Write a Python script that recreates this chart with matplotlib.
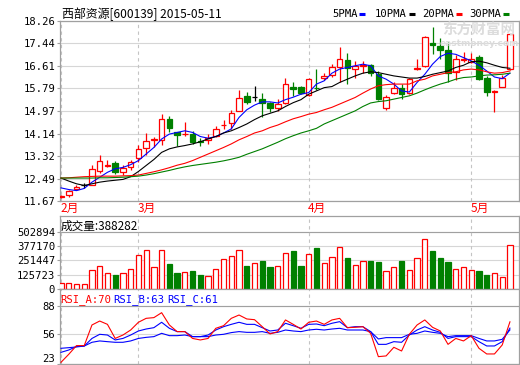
import matplotlib
matplotlib.use('Agg')
import matplotlib.pyplot as plt
from matplotlib.lines import Line2D
import numpy as np

# ---- data (600139, 2015-02-04 .. 2015-05-11) ----
opens = [11.82, 11.90, 12.12, 12.24, 12.26, 12.77, 12.96, 13.07, 12.74, 12.90,
         13.23, 13.60, 13.92, 13.92, 14.67, 14.18, 14.11, 14.12, 13.86, 13.89,
         14.06, 14.44, 14.53, 14.95, 15.51, 15.46, 15.40, 15.26, 15.08, 15.26,
         15.83, 15.85, 15.55, 15.82, 16.18, 16.28, 16.59, 16.83, 16.52, 16.63,
         16.64, 16.31, 15.07, 15.62, 15.80, 15.64, 16.50, 16.62, 17.47, 17.35,
         17.20, 16.40, 16.84, 16.76, 16.95, 16.18, 15.66, 15.86, 16.50]
highs = [11.90, 12.09, 12.24, 12.32, 12.97, 13.36, 13.17, 13.15, 12.97, 13.18,
         13.72, 14.15, 14.00, 14.85, 14.77, 14.20, 14.57, 14.24, 13.97, 14.12,
         14.43, 14.64, 15.00, 15.74, 15.67, 15.89, 15.62, 15.31, 15.40, 16.18,
         16.01, 15.89, 16.18, 16.52, 16.37, 16.68, 17.31, 17.08, 16.81, 16.80,
         16.70, 16.43, 15.54, 16.04, 15.96, 16.18, 16.88, 17.70, 18.04, 17.65,
         17.48, 17.01, 17.12, 17.10, 17.00, 16.25, 15.74, 16.28, 17.77]
lows = [11.78, 11.81, 12.07, 12.14, 12.24, 12.70, 12.90, 12.66, 12.63, 12.79,
        13.09, 13.36, 13.66, 13.72, 14.20, 13.70, 14.05, 13.76, 13.70, 13.76,
        14.03, 14.29, 14.29, 14.95, 15.23, 15.33, 14.73, 14.93, 14.97, 15.22,
        15.52, 15.57, 15.50, 15.72, 16.10, 16.21, 16.01, 15.97, 16.17, 16.37,
        16.26, 15.38, 15.01, 15.60, 15.42, 15.57, 16.47, 16.57, 17.04, 16.86,
        16.01, 16.11, 16.76, 16.72, 16.11, 15.53, 14.94, 15.86, 16.47]
closes = [11.86, 12.03, 12.20, 12.24, 12.85, 13.14, 12.98, 12.72, 12.87, 13.11,
          13.58, 13.87, 13.95, 14.67, 14.33, 14.07, 14.13, 13.84, 13.84, 13.98,
          14.31, 14.47, 14.91, 15.44, 15.30, 15.46, 15.26, 15.07, 15.22, 15.95,
          15.78, 15.64, 16.15, 15.79, 16.25, 16.56, 16.86, 16.53, 16.62, 16.65,
          16.35, 15.42, 15.48, 15.80, 15.59, 16.13, 16.53, 17.68, 17.37, 17.19,
          16.37, 16.86, 16.87, 16.88, 16.15, 15.67, 15.68, 16.19, 17.77]
volumes = [50000, 50000, 44000, 44000, 166000, 201000, 137000, 122000, 137000, 172000,
           297000, 340000, 189000, 340000, 218000, 142000, 148000, 157000, 122000, 111000,
           172000, 259000, 288000, 340000, 201000, 224000, 244000, 192000, 198000, 314000,
           332000, 201000, 303000, 358000, 224000, 277000, 373000, 271000, 207000, 242000,
           244000, 236000, 157000, 189000, 244000, 163000, 268000, 443000, 332000, 271000,
           236000, 172000, 189000, 163000, 157000, 122000, 137000, 105000, 388282]

ma5 = [12.15, 12.09, 12.05, 12.13, 12.36, 12.54, 12.72, 12.85, 12.90, 13.00,
       13.15, 13.39, 13.63, 13.94, 14.12, 14.18, 14.24, 14.18, 14.03, 13.97,
       14.03, 14.16, 14.31, 14.73, 15.01, 15.18, 15.30, 15.30, 15.26, 15.38,
       15.47, 15.58, 15.64, 15.95, 16.07, 16.35, 16.50, 16.56, 16.62, 16.68,
       16.62, 16.25, 16.13, 15.95, 15.70, 15.66, 16.01, 16.31, 16.68, 16.96,
       17.08, 17.04, 16.92, 16.80, 16.64, 16.43, 16.21, 16.15, 16.35]
ma10 = [12.51, 12.40, 12.30, 12.24, 12.30, 12.36, 12.40, 12.43, 12.46, 12.56,
        12.75, 12.97, 13.19, 13.45, 13.58, 13.65, 13.70, 13.76, 13.84, 13.94,
        14.03, 14.16, 14.24, 14.36, 14.49, 14.65, 14.79, 14.88, 14.97, 15.13,
        15.27, 15.38, 15.58, 15.70, 15.82, 15.86, 16.01, 16.13, 16.25, 16.35,
        16.40, 16.37, 16.31, 16.25, 16.21, 16.17, 16.17, 16.23, 16.31, 16.37,
        16.43, 16.56, 16.64, 16.77, 16.79, 16.73, 16.64, 16.56, 16.53]
ma20 = [12.51, 12.52, 12.54, 12.56, 12.57, 12.58, 12.58, 12.58, 12.59, 12.60,
        12.62, 12.68, 12.74, 12.81, 12.89, 12.98, 13.05, 13.15, 13.27, 13.39,
        13.51, 13.63, 13.76, 13.91, 14.03, 14.16, 14.24, 14.36, 14.45, 14.57,
        14.68, 14.76, 14.85, 14.91, 15.01, 15.10, 15.22, 15.34, 15.46, 15.62,
        15.77, 15.89, 15.93, 15.95, 15.95, 15.95, 16.07, 16.13, 16.25, 16.31,
        16.37, 16.40, 16.47, 16.50, 16.47, 16.40, 16.35, 16.37, 16.43]
ma30 = [12.51, 12.51, 12.51, 12.51, 12.51, 12.52, 12.52, 12.53, 12.54, 12.56,
        12.58, 12.62, 12.67, 12.73, 12.79, 12.86, 12.92, 12.97, 13.01, 13.05,
        13.09, 13.14, 13.20, 13.27, 13.38, 13.48, 13.58, 13.70, 13.82, 13.95,
        14.06, 14.16, 14.24, 14.33, 14.49, 14.61, 14.73, 14.85, 14.97, 15.13,
        15.26, 15.31, 15.34, 15.40, 15.46, 15.52, 15.62, 15.74, 15.85, 15.95,
        16.03, 16.13, 16.19, 16.21, 16.25, 16.28, 16.29, 16.31, 16.35]

rsi_a = [24.9, 33.8, 43.5, 43.5, 66.5, 70.9, 67.2, 51.5, 55.3, 60.9,
         69.5, 73.9, 74.7, 80.2, 66.5, 59.1, 59.1, 51.5, 49.8, 51.5,
         62.8, 65.7, 73.9, 77.6, 73.2, 72.4, 64.6, 56.5, 59.1, 72.1,
         67.2, 62.0, 69.5, 70.9, 67.2, 72.1, 73.9, 63.5, 63.9, 64.6,
         57.2, 31.2, 32.0, 41.6, 37.5, 56.1, 66.5, 72.1, 63.9, 59.8,
         44.9, 51.5, 48.7, 54.6, 40.5, 34.2, 34.2, 44.2, 70]
rsi_b = [36.0, 38.6, 42.5, 43.0, 51.5, 56.1, 55.3, 49.8, 51.5, 55.3,
         59.8, 62.0, 63.5, 69.5, 62.8, 59.1, 59.1, 53.5, 53.5, 55.3,
         60.9, 64.6, 67.2, 69.5, 67.2, 67.2, 63.5, 59.8, 60.9, 68.4,
         65.7, 62.8, 67.2, 67.6, 65.7, 68.4, 70.2, 63.5, 64.6, 64.6,
         59.1, 44.9, 44.9, 47.9, 47.2, 55.3, 60.9, 64.6, 60.9, 58.3,
         51.5, 53.5, 53.5, 53.5, 47.9, 43.1, 43.1, 47.9, 63]
rsi_c = [40.5, 41.2, 42.0, 43.0, 47.2, 48.7, 47.9, 47.2, 47.2, 48.7,
         51.5, 52.7, 53.5, 57.2, 54.6, 54.6, 55.3, 53.5, 53.5, 53.5,
         55.3, 56.1, 58.0, 59.1, 58.3, 58.3, 59.1, 57.2, 58.3, 60.9,
         59.8, 59.1, 60.9, 61.7, 60.9, 62.0, 62.8, 60.9, 60.9, 60.9,
         59.1, 50.9, 52.4, 52.4, 52.4, 56.1, 57.2, 59.8, 58.3, 57.2,
         53.5, 54.6, 54.6, 54.6, 51.5, 48.7, 48.7, 50.5, 61]

price_ticks = [11.67, 12.49, 13.32, 14.14, 14.97, 15.79, 16.61, 17.44, 18.26]
vol_ticks = [0, 125723, 251447, 377170, 502894]
rsi_ticks = [23, 56, 88]
month_labels = ['2月', '3月', '4月', '5月']
month_idx = [0, 10, 32, 53]

RED, GREEN, BLUE = '#ff0000', '#008000', '#0000ff'
FRAME, GRID, VGRID = '#a0a0a0', '#d6d6d6', '#c4c4c4'
MONO = 'DejaVu Sans Mono'
CJK = ['Noto Sans CJK SC', 'DejaVu Sans']

W, H = 520, 365
fig = plt.figure(figsize=(5.2, 3.65), dpi=100)


def box(l, t, r, b):
    return [l / W, 1 - b / H, (r - l) / W, (b - t) / H]


def fx(px):
    return px / W


def fy(py):
    return 1 - py / H


ax = fig.add_axes(box(60, 21, 519, 201))
axv = fig.add_axes(box(60, 216, 519, 289))
axr = fig.add_axes(box(60, 289, 519, 364))

n = len(closes)
x = np.arange(n)
o, h, l, c = map(np.array, (opens, highs, lows, closes))

cols = np.where(c > o, RED, np.where(c < o, GREEN, 'black'))
faces = np.where(c < o, GREEN, 'white')

# candles
ax.vlines(x, l, h, colors=cols, lw=0.9, zorder=2)
ax.bar(x, np.abs(c - o), bottom=np.minimum(o, c), width=0.72,
       color=faces, edgecolor=cols, lw=0.9, zorder=3)

# moving averages
ax.plot(x, ma5, color=BLUE, lw=0.8, zorder=4)
ax.plot(x, ma10, color='black', lw=0.8, zorder=4)
ax.plot(x, ma20, color=RED, lw=0.8, zorder=4)
ax.plot(x, ma30, color=GREEN, lw=0.8, zorder=4)

ax.set_ylim(11.67, 18.26)
ax.set_yticks(price_ticks)
ax.set_yticklabels(['%.2f' % v for v in price_ticks])

# volume
vcol = np.where(c < o, GREEN, RED)
axv.bar(x, volumes, width=0.68, color=faces, edgecolor=vcol, lw=0.9, zorder=3)
axv.set_ylim(0, 640700)
axv.set_yticks(vol_ticks)
axv.set_yticklabels([str(v) for v in vol_ticks])
axv.axhline(502894, color=FRAME, lw=0.8, zorder=1)

# rsi
axr.plot(x, rsi_c, color=BLUE, lw=0.8, zorder=3)
axr.plot(x, rsi_b, color=BLUE, lw=0.8, zorder=3)
axr.plot(x, rsi_a, color=RED, lw=0.8, zorder=4)
axr.set_ylim(23, 106.6)
axr.set_yticks(rsi_ticks)
axr.set_yticklabels([str(v) for v in rsi_ticks])
axr.axhline(88, color=FRAME, lw=0.8, zorder=1)

for a in (ax, axv, axr):
    a.set_xlim(-0.13, 59.17)
    a.set_xticks([])
    a.grid(axis='y', color=GRID, lw=0.8, zorder=0)
    a.set_axisbelow(True)
    for s in a.spines.values():
        s.set_color(FRAME)
        s.set_linewidth(0.9)
    a.tick_params(axis='y', length=2, width=0.8, color=FRAME, pad=1.5,
                  labelsize=7.6, labelcolor='black')
    for t in a.get_yticklabels():
        t.set_family(MONO)
    for i in month_idx:
        a.axvline(i, color=VGRID, lw=0.8, ls=(0, (3, 3)), zorder=1)

# keep the bottom rsi label inside the picture
axr.get_yticklabels()[0].set_verticalalignment('bottom')

for lab, i in zip(month_labels, month_idx):
    ax.text(i - 0.1, -0.04, lab, transform=ax.get_xaxis_transform(),
            ha='left', va='center', color=RED, fontsize=8.5, family=CJK)

# title and legend
fig.text(fx(62), fy(14), '西部资源[600139] 2015-05-11', family=CJK,
         fontsize=8.6, ha='left', va='center', color='black')
legend = [('5PMA', BLUE, 332), ('10PMA', 'black', 375),
          ('20PMA', RED, 422), ('30PMA', GREEN, 469)]
for name, col, px in legend:
    t = fig.text(fx(px), fy(14), name, family=MONO, fontsize=7.6,
                 ha='left', va='center', color='black')
    x0 = px + 6.1 * len(name) + 3
    fig.add_artist(Line2D([fx(x0), fx(x0 + 6)], [fy(14), fy(14)],
                          color=col, lw=2.2, solid_capstyle='butt'))

# watermark
fig.text(fx(442), fy(30), '东方财富网', family=CJK, fontsize=10.5,
         fontweight='bold', color='#dcdcdc', ha='left', va='center', zorder=0)
fig.text(fx(440), fy(43), 'eastmoney.com', family='DejaVu Sans', fontsize=6.5,
         fontweight='bold', color='#dcdcdc', ha='left', va='center', zorder=0)

# panel headers
fig.text(fx(61), fy(226), '成交量:388282', family=CJK, fontsize=8.4,
         ha='left', va='center', color='black')
for txt, col, px in [('RSI_A:70', RED, 60), ('RSI_B:63', BLUE, 113),
                     ('RSI_C:61', BLUE, 167)]:
    fig.text(fx(px), fy(300), txt, family=MONO, fontsize=7.6,
             ha='left', va='center', color=col)

fig.savefig('out.png', dpi=100)
